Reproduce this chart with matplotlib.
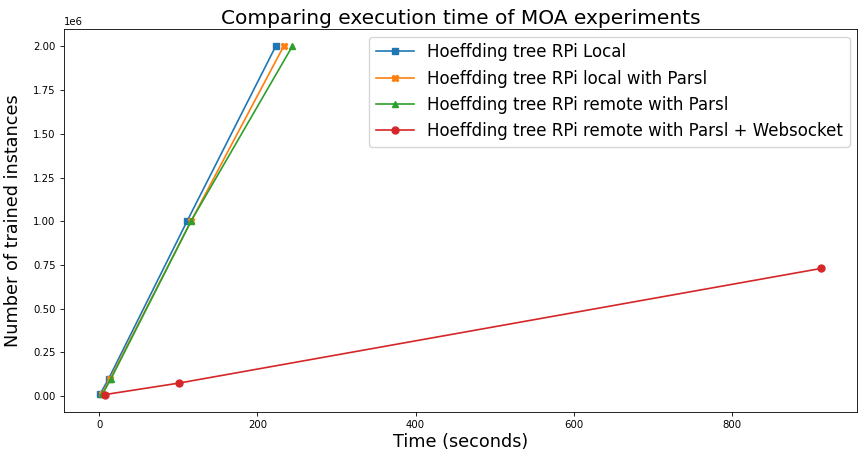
import matplotlib.pyplot as plt

# execution time (seconds) and number of trained instances
local_time = [1, 12, 111, 223]
local_inst = [10000, 100000, 1000000, 2000000]

parsl_local_time = [3, 14, 116, 233]
parsl_local_inst = [10000, 100000, 1000000, 2000000]

parsl_remote_time = [4, 15, 116, 244]
parsl_remote_inst = [10000, 100000, 1000000, 2000000]

ws_time = [7, 101, 913]
ws_inst = [8000, 74000, 730000]

plt.rcParams.update({
    'xtick.labelsize': 7.3,
    'ytick.labelsize': 7.3,
    'xtick.major.size': 2.6,
    'ytick.major.size': 2.6,
    'xtick.major.width': 0.6,
    'ytick.major.width': 0.6,
    'axes.linewidth': 0.6,
    'lines.linewidth': 1.2,
    'lines.markersize': 5,
})

fig, ax = plt.subplots(figsize=(8.59, 4.54), dpi=100)

ax.plot(local_time, local_inst, marker='s', label='Hoeffding tree RPi Local')
ax.plot(parsl_local_time, parsl_local_inst, marker='X', label='Hoeffding tree RPi local with Parsl')
ax.plot(parsl_remote_time, parsl_remote_inst, marker='^', label='Hoeffding tree RPi remote with Parsl')
ax.plot(ws_time, ws_inst, marker='o', label='Hoeffding tree RPi remote with Parsl + Websocket')
ax.yaxis.get_offset_text().set_fontsize(7.3)

ax.set_title('Comparing execution time of MOA experiments', fontsize=14.5, pad=4)
ax.set_xlabel('Time (seconds)', fontsize=12.7, labelpad=2)
ax.set_ylabel('Number of trained instances', fontsize=12.7, labelpad=8)
ax.legend(fontsize=12, handlelength=2.3, borderaxespad=0.45)

fig.subplots_adjust(left=0.0745, right=0.998, top=0.936, bottom=0.0925)
fig.savefig('out.png')
